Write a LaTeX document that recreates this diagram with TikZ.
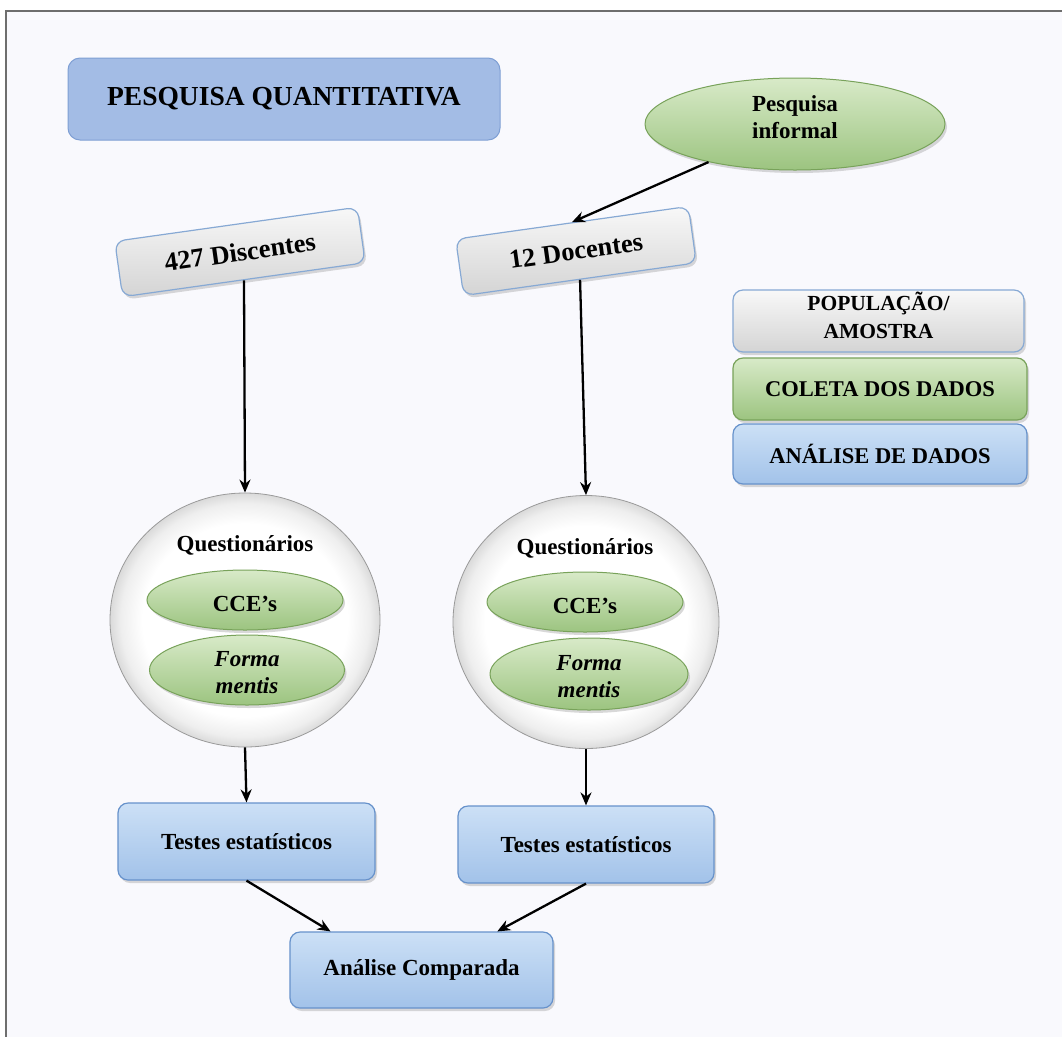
\documentclass[tikz,border=0pt]{standalone}
\usepackage{fontspec}
\setmainfont{Liberation Serif}
\usetikzlibrary{shapes.geometric,shadows,arrows.meta}

\definecolor{pagebg}{HTML}{F9F9FD}
\definecolor{framegray}{HTML}{6E6E6E}
\definecolor{titlefill}{HTML}{A3BCE5}
\definecolor{titledraw}{HTML}{7F9FD4}
\definecolor{bluetop}{HTML}{CCE0F6}
\definecolor{bluebot}{HTML}{A2C2E9}
\definecolor{bluedraw}{HTML}{6792CB}
\definecolor{greentop}{HTML}{D8EAC8}
\definecolor{greenmid}{HTML}{C3DDAE}
\definecolor{greenbot}{HTML}{9CC480}
\definecolor{greendraw}{HTML}{78A25A}
\definecolor{graytop}{HTML}{F8F8F8}
\definecolor{graybot}{HTML}{D4D4D4}
\definecolor{graydraw}{HTML}{87A9D4}
\definecolor{circleedge}{HTML}{DADADA}
\definecolor{circledraw}{HTML}{9A9A9A}

% white bubble that only greys towards its rim
\pgfdeclareradialshading{bubbleshade}{\pgfpoint{0bp}{0bp}}{%
  color(0bp)=(white); color(19bp)=(white); color(23bp)=(white!55!circleedge);
  color(25bp)=(circleedge); color(50bp)=(circleedge)}

\tikzset{
  txt/.style={font=\fontsize{23}{27}\selectfont\bfseries, align=center, text=black},
  softshadow/.style={drop shadow={opacity=0.3, shadow xshift=2pt, shadow yshift=-3pt}},
  bluebox/.style={txt, draw=bluedraw, line width=1.2pt, rounded corners=10pt,
    top color=bluetop, bottom color=bluebot, softshadow},
  greenbox/.style={txt, draw=greendraw, line width=1.2pt, rounded corners=10pt,
    top color=greentop, bottom color=greenbot, softshadow},
  graybox/.style={txt, draw=graydraw, line width=1.2pt, rounded corners=10pt,
    top color=graytop, bottom color=graybot, softshadow},
  tiltbox/.style={graybox, rotate=8, font=\fontsize{26.5}{30}\selectfont\bfseries},
  greenoval/.style={txt, ellipse, draw=greendraw, line width=1pt,
    top color=greentop, middle color=greenmid, bottom color=greenbot, softshadow, inner sep=0pt},
  bubble/.style={ellipse, draw=circledraw, line width=0.8pt, shading=bubbleshade},
  arr/.style={-{Stealth[length=13pt,width=11pt]}, line width=2.3pt, black},
}

\begin{document}
\begin{tikzpicture}[x=1pt,y=-1pt]
  % page and frame
  \useasboundingbox (0,0) rectangle (1062,1037);
  \fill[white] (0,0) rectangle (1062,1037);
  \fill[pagebg] (6,11) rectangle (1062,1037);
  \draw[framegray, line width=2pt] (5,11) -- (1062,11);
  \draw[framegray, line width=2pt] (6,11) -- (6,1037);

  % title
  \node[txt, draw=titledraw, line width=1pt, fill=titlefill, rounded corners=12pt,
        minimum width=432, minimum height=82, font=\fontsize{27.5}{30}\selectfont\bfseries]
        (title) at (284,99) {PESQUISA QUANTITATIVA};

  % informal research
  \node[greenoval, minimum width=300, minimum height=92] (inf) at (795,124) {};
  \node[txt] (infT) at (795,117) {Pesquisa\\informal};

  % population boxes
  \node[tiltbox, minimum width=245, minimum height=56] (disc) at (240,252) {427 Discentes};
  \node[tiltbox, minimum width=235, minimum height=57] (doc) at (576,251) {12 Docentes};

  % questionnaire groups
  \node[bubble, minimum width=270, minimum height=254] (qL) at (245,620) {};
  \node[bubble, minimum width=266, minimum height=253] (qR) at (586,622) {};
  \node[txt] (qtL) at (245,545) {Questionários};
  \node[txt] (qtR) at (585,548) {Questionários};
  \node[greenoval, minimum width=196, minimum height=60] (cceL) at (245,600) {};
  \node[txt] (cceLT) at (245,604) {CCE’s};
  \node[greenoval, minimum width=195, minimum height=70] (fmL) at (247,670) {};
  \node[txt] (fmLT) at (247,673) {\itshape Forma\\\itshape mentis};
  \node[greenoval, minimum width=196, minimum height=60] (cceR) at (585,602) {};
  \node[txt] (cceRT) at (585,606) {CCE’s};
  \node[greenoval, minimum width=198, minimum height=72] (fmR) at (589,674) {};
  \node[txt] (fmRT) at (589,677) {\itshape Forma\\\itshape mentis};

  % statistics and comparison
  \node[bluebox, minimum width=257, minimum height=77] (testL) at (246.5,841.5) {Testes estatísticos};
  \node[bluebox, minimum width=256, minimum height=77] (testR) at (586,844.5) {Testes estatísticos};
  \node[bluebox, minimum width=263, minimum height=76] (anal) at (421.5,970) {Análise Comparada};

  % legend
  \node[graybox, minimum width=291, minimum height=62] (leg1) at (878.5,321) {};
  \node[txt, font=\fontsize{21.5}{28}\selectfont\bfseries] (leg1T) at (878.5,315) {POPULAÇÃO/\\AMOSTRA};
  \node[greenbox, minimum width=294, minimum height=62, font=\fontsize{22.5}{27}\selectfont\bfseries]
        (leg2) at (880,389) {COLETA DOS DADOS};
  \node[bluebox, minimum width=294, minimum height=60, font=\fontsize{22.5}{27}\selectfont\bfseries]
        (leg3) at (880,454) {ANÁLISE DE DADOS};

  % connectors
  \draw[arr] (inf) -- (doc.north);
  \draw[arr] (disc.south) -- (qL.north);
  \draw[arr] (doc.south) -- (qR.north);
  \draw[arr] (qL.south) -- (testL.north);
  \draw[arr] (qR.south) -- (testR.north);
  \draw[arr] (testL.south) -- (anal.157);
  \draw[arr] (testR.south) -- (anal.27);
\end{tikzpicture}
\end{document}
